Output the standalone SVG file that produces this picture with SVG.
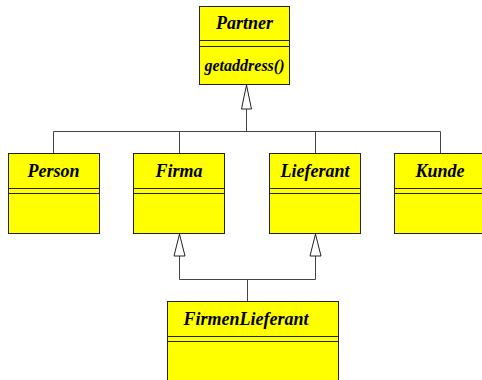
<svg xmlns="http://www.w3.org/2000/svg" width="482" height="380" viewBox="0 0 482 380">
<style>
.box{fill:#ffff00;stroke:#222;stroke-width:1}
.sep{stroke:#222;stroke-width:1}
.t{font-family:"Liberation Serif",serif;font-weight:bold;font-style:italic;font-size:18px;fill:#000;text-anchor:middle}
.m{font-family:"Liberation Serif",serif;font-weight:bold;font-style:italic;font-size:16px;fill:#000;text-anchor:middle}
.c{fill:none;stroke:#444;stroke-width:1}
.tri{fill:#fff;stroke:#222;stroke-width:1}
</style>
<rect width="482" height="380" fill="#fff"/>
<g id="connectors">
<polyline class="c" points="53.5,153 53.5,131.5 440.5,131.5 440.5,153"/>
<line class="c" x1="179.5" y1="131.5" x2="179.5" y2="153"/>
<line class="c" x1="315.5" y1="131.5" x2="315.5" y2="153"/>
<line class="c" x1="246.5" y1="131.5" x2="246.5" y2="109"/>
<polygon class="tri" points="246.5,85 241.5,109 251.5,109"/>
<polyline class="c" points="179.5,256 179.5,279.5 315.5,279.5 315.5,256"/>
<line class="c" x1="247.5" y1="279.5" x2="247.5" y2="301"/>
<polygon class="tri" points="179.5,234 174,256 185,256"/>
<polygon class="tri" points="315.5,234 310,256 321,256"/>
</g>
<g id="Partner">
<rect class="box" x="199.5" y="6.5" width="90" height="78"/>
<line class="sep" x1="199.5" y1="40.5" x2="289.5" y2="40.5"/>
<line class="sep" x1="199.5" y1="46.5" x2="289.5" y2="46.5"/>
<text class="t" x="244.5" y="29">Partner</text>
<text class="m" x="244.5" y="71">getaddress()</text>
</g>
<g id="Person">
<rect class="box" x="8.5" y="153.5" width="91" height="80"/>
<line class="sep" x1="8.5" y1="188.5" x2="99.5" y2="188.5"/>
<line class="sep" x1="8.5" y1="193.5" x2="99.5" y2="193.5"/>
<text class="t" x="53.5" y="177">Person</text>
</g>
<g id="Firma">
<rect class="box" x="133.5" y="153.5" width="91" height="80"/>
<line class="sep" x1="133.5" y1="188.5" x2="224.5" y2="188.5"/>
<line class="sep" x1="133.5" y1="193.5" x2="224.5" y2="193.5"/>
<text class="t" x="179" y="177">Firma</text>
</g>
<g id="Lieferant">
<rect class="box" x="269.5" y="153.5" width="91" height="80"/>
<line class="sep" x1="269.5" y1="188.5" x2="360.5" y2="188.5"/>
<line class="sep" x1="269.5" y1="193.5" x2="360.5" y2="193.5"/>
<text class="t" x="315" y="177">Lieferant</text>
</g>
<g id="Kunde">
<rect class="box" x="394.5" y="153.5" width="92" height="80"/>
<line class="sep" x1="394.5" y1="188.5" x2="486" y2="188.5"/>
<line class="sep" x1="394.5" y1="193.5" x2="486" y2="193.5"/>
<text class="t" x="440" y="177">Kunde</text>
</g>
<g id="FirmenLieferant">
<rect class="box" x="167.5" y="301.5" width="171" height="90"/>
<line class="sep" x1="167.5" y1="336.5" x2="338.5" y2="336.5"/>
<line class="sep" x1="167.5" y1="341.5" x2="338.5" y2="341.5"/>
<text class="t" x="246" y="325">FirmenLieferant</text>
</g>
</svg>
